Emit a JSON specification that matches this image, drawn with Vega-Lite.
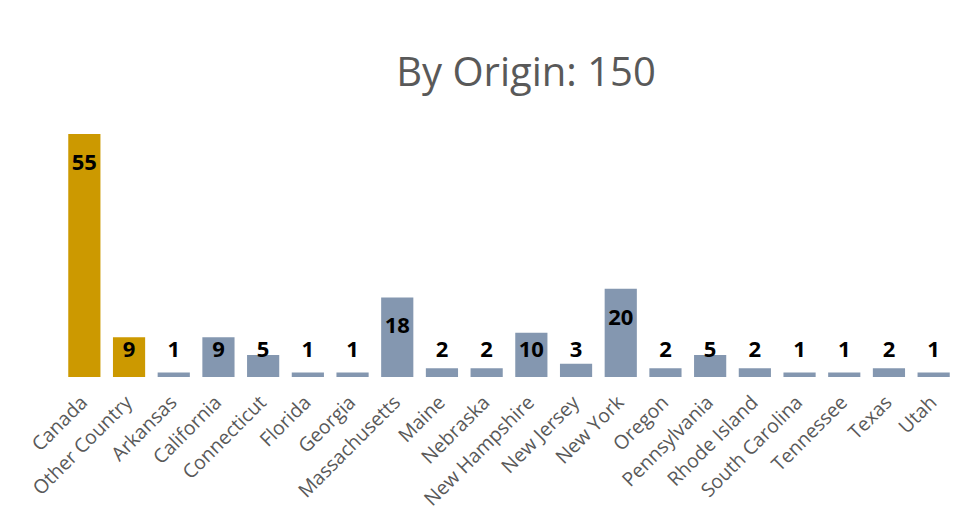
{
  "$schema": "https://vega.github.io/schema/vega-lite/v6.json",
  "autosize": {"type": "none"},
  "width": 894,
  "height": 243,
  "padding": {"left": 62, "top": 134, "right": 14, "bottom": 155},
  "background": "white",
  "title": {
    "text": "By Origin: 150",
    "anchor": "middle",
    "frame": "group",
    "dx": 17,
    "offset": 40,
    "font": "Open Sans",
    "fontSize": 40,
    "fontWeight": "normal",
    "color": "#595959"
  },
  "config": {"view": {"stroke": null}},
  "data": {
    "values": [
      {"origin": "Canada", "count": 55, "group": "Foreign"},
      {"origin": "Other Country", "count": 9, "group": "Foreign"},
      {"origin": "Arkansas", "count": 1, "group": "US"},
      {"origin": "California", "count": 9, "group": "US"},
      {"origin": "Connecticut", "count": 5, "group": "US"},
      {"origin": "Florida", "count": 1, "group": "US"},
      {"origin": "Georgia", "count": 1, "group": "US"},
      {"origin": "Massachusetts", "count": 18, "group": "US"},
      {"origin": "Maine", "count": 2, "group": "US"},
      {"origin": "Nebraska", "count": 2, "group": "US"},
      {"origin": "New Hampshire", "count": 10, "group": "US"},
      {"origin": "New Jersey", "count": 3, "group": "US"},
      {"origin": "New York", "count": 20, "group": "US"},
      {"origin": "Oregon", "count": 2, "group": "US"},
      {"origin": "Pennsylvania", "count": 5, "group": "US"},
      {"origin": "Rhode Island", "count": 2, "group": "US"},
      {"origin": "South Carolina", "count": 1, "group": "US"},
      {"origin": "Tennessee", "count": 1, "group": "US"},
      {"origin": "Texas", "count": 2, "group": "US"},
      {"origin": "Utah", "count": 1, "group": "US"}
    ]
  },
  "encoding": {
    "x": {
      "field": "origin",
      "type": "nominal",
      "sort": null,
      "scale": {"paddingInner": 0.28, "paddingOuter": 0.14},
      "axis": {
        "title": null,
        "labelAngle": -45,
        "labelAlign": "right",
        "labelBaseline": "middle",
        "labelFont": "Open Sans",
        "labelFontSize": 19.5,
        "labelColor": "#595959",
        "labelPadding": 22,
        "labelOverlap": false,
        "ticks": false,
        "domain": false,
        "grid": false
      }
    }
  },
  "layer": [
    {
      "mark": {"type": "bar"},
      "encoding": {
        "y": {
          "field": "count",
          "type": "quantitative",
          "scale": {"domain": [0, 55], "nice": false},
          "axis": null
        },
        "color": {
          "field": "group",
          "type": "nominal",
          "scale": {"domain": ["Foreign", "US"], "range": ["#CC9900", "#8497B0"]},
          "legend": null
        }
      }
    },
    {
      "transform": [{"filter": "datum.count >= 13"}],
      "mark": {
        "type": "text",
        "font": "Open Sans",
        "fontSize": 22,
        "fontWeight": "bold",
        "color": "#000000",
        "baseline": "middle",
        "dy": 29
      },
      "encoding": {
        "y": {"field": "count", "type": "quantitative"},
        "text": {"field": "count", "type": "quantitative"}
      }
    },
    {
      "transform": [{"filter": "datum.count < 13"}],
      "mark": {
        "type": "text",
        "font": "Open Sans",
        "fontSize": 22,
        "fontWeight": "bold",
        "color": "#000000",
        "baseline": "middle"
      },
      "encoding": {
        "y": {"datum": 6.1},
        "text": {"field": "count", "type": "quantitative"}
      }
    }
  ]
}
